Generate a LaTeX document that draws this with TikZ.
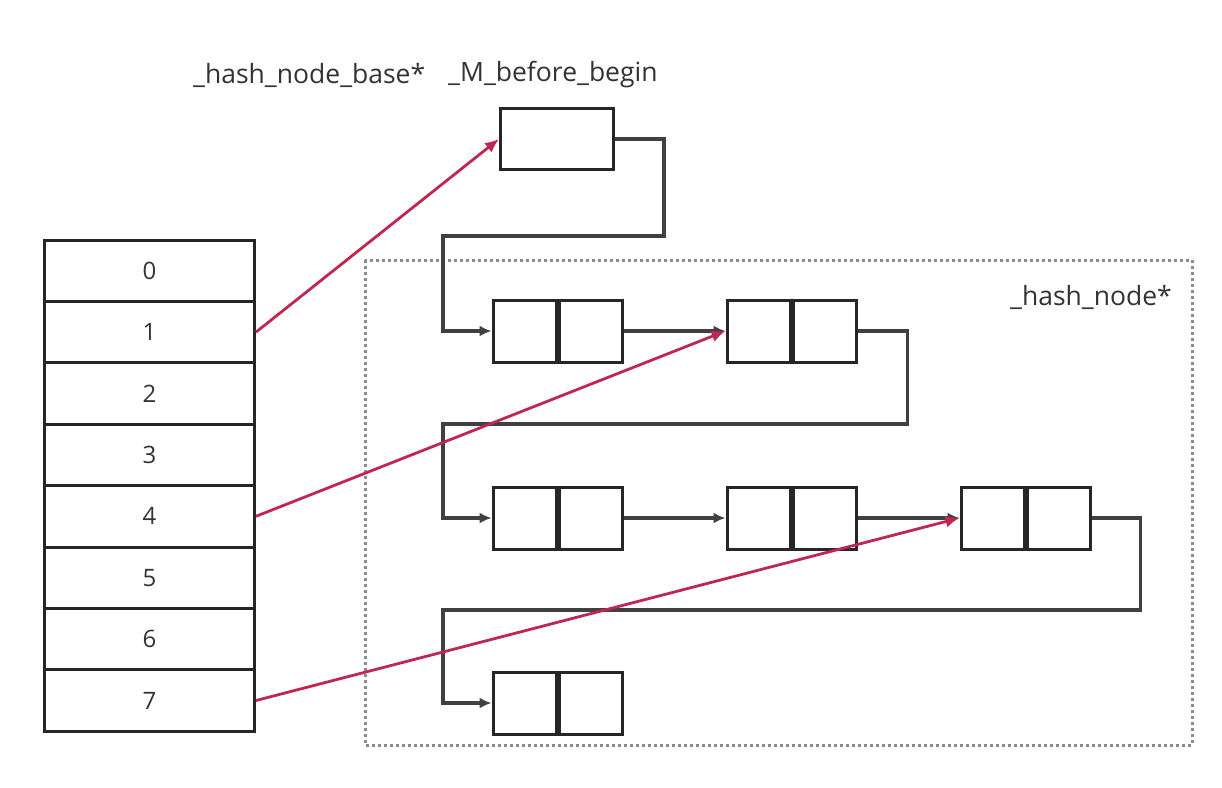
\documentclass[tikz,border=0pt]{standalone}
\usepackage{fontspec}
\setmainfont{Open Sans}
\usetikzlibrary{arrows.meta}
\begin{document}
\begin{tikzpicture}[x=1pt,y=-1pt,
  lbl/.style={font=\fontsize{26.5}{30}\selectfont, text=black!80, inner sep=0pt},
  cell/.style={draw=black!85, line width=3pt, minimum width=210pt, minimum height=61.4pt,
    inner sep=0pt, font=\fontsize{24}{28}\selectfont, text=black!80},
  half/.style={draw=black!85, line width=3pt, minimum width=63pt, minimum height=62pt, inner sep=0pt},
  link/.style={draw=black!75, line width=3.4pt, -{Latex[length=12pt,width=11pt]}},
  ptr/.style={draw={rgb,255:red,190;green,40;blue,80}, line width=2.8pt,
    -{Latex[length=14pt,width=12pt]}},
]
\useasboundingbox (0,0) rectangle (1222,787);

% group frame for the hash nodes
\draw[draw=black!45, line width=3pt, dash pattern=on 3pt off 3pt] (365,260) rectangle (1192,745);

% captions
\node[lbl, anchor=west] (cbase) at (193,75) {\_hash\_node\_base*};
\node[lbl, anchor=west] (cbeg) at (448,75) {\_M\_before\_begin};
\node[lbl, anchor=east] (cnode) at (1172,297) {\_hash\_node*};

% bucket array
\foreach \i in {0,...,7} {
  \node[cell] (k\i) at (149.5, 240+61.4*\i+30.7) {\i};
}

% before-begin sentinel
\node[draw=black!85, line width=3pt, minimum width=113pt, minimum height=61pt, inner sep=0pt] (bb) at (557,139) {};

% hash nodes: two halves each
\node[half] (a1) at (524.5,331) {};
\node[half, anchor=west] (a2) at (a1.east) {};
\node[half] (b1) at (758.5,331) {};
\node[half, anchor=west] (b2) at (b1.east) {};
\node[half] (c1) at (524.5,518) {};
\node[half, anchor=west] (c2) at (c1.east) {};
\node[half] (d1) at (758.5,518) {};
\node[half, anchor=west] (d2) at (d1.east) {};
\node[half] (e1) at (992.5,518) {};
\node[half, anchor=west] (e2) at (e1.east) {};
\node[half] (f1) at (524.5,703) {};
\node[half, anchor=west] (f2) at (f1.east) {};

% next pointers
\draw[link] (bb.east) -- ++(49,0) |- (443,236) |- (a1.west);
\draw[link] (a2.east) -- (b1.west);
\draw[link] (b2.east) -- ++(50,0) |- (443,424) |- (c1.west);
\draw[link] (c2.east) -- (d1.west);
\draw[link] (d2.east) -- (e1.west);
\draw[link] (e2.east) -- ++(49,0) |- (443,610) |- (f1.west);

% bucket pointers
\draw[ptr] (k1.east) -- (bb.west);
\draw[ptr] (k4.east) -- (b1.west);
\draw[ptr] (k7.east) -- (e1.west);
\end{tikzpicture}
\end{document}
